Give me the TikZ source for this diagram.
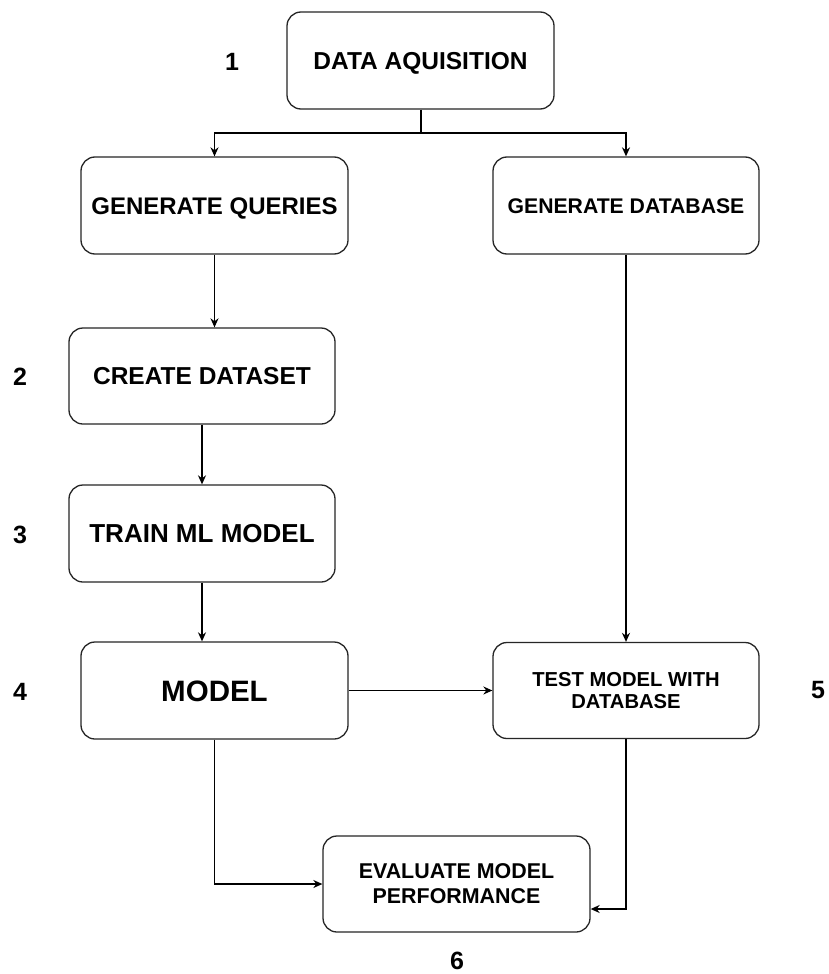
\documentclass[tikz,border=0pt]{standalone}
\usepackage{fontspec}
\setmainfont{Liberation Sans}
\usetikzlibrary{arrows.meta}
\newcommand{\fs}[2]{\fontsize{#1}{#2}\selectfont}
\tikzset{
  box/.style={draw=black!85, line width=1.3pt, rounded corners=14pt, fill=white,
    align=center, inner sep=0pt},
  conn/.style={draw=black, line width=1.3pt, -{Stealth[length=9pt,width=8pt]}},
  plain/.style={draw=black, line width=1.3pt},
  num/.style={font=\fs{25}{30}\bfseries, inner sep=0pt}
}
\begin{document}
\begin{tikzpicture}[x=1pt,y=-1pt]
\useasboundingbox[fill=white] (0,0) rectangle (829,974);
\node[box, minimum width=267pt, minimum height=97pt, font=\fs{24.5}{29}\bfseries, text height=17.5pt, text depth=0pt] (da) at (420.5,60.5) {DATA AQUISITION};
\node[box, minimum width=267pt, minimum height=97pt, font=\fs{24}{29}\bfseries, text height=17.2pt, text depth=0pt] (gq) at (214.5,205.5) {GENERATE QUERIES};
\node[box, minimum width=266pt, minimum height=97pt, font=\fs{21.2}{25}\bfseries, text height=15.2pt, text depth=0pt] (gd) at (626,205.5) {GENERATE DATABASE};
\node[box, minimum width=266pt, minimum height=96pt, font=\fs{24.5}{29}\bfseries, text height=17.5pt, text depth=0pt] (cd) at (202,376) {CREATE DATASET};
\node[box, minimum width=266pt, minimum height=97pt, font=\fs{26}{31}\bfseries, text height=18.6pt, text depth=0pt] (tr) at (202,533.5) {TRAIN ML MODEL};
\node[box, minimum width=267pt, minimum height=97pt, font=\fs{29.5}{34}\bfseries, text height=21.1pt, text depth=0pt] (mo) at (214.5,690.5) {MODEL};
\node[box, minimum width=266pt, minimum height=96pt, font=\fs{20.2}{22}\bfseries] (te) at (626,690.5) {TEST MODEL WITH\\DATABASE};
\node[box, minimum width=267pt, minimum height=96pt, font=\fs{21.4}{25}\bfseries] (ev) at (456.5,884) {EVALUATE MODEL\\PERFORMANCE};

\node[num] (n1) at (232,62) {1};
\node[num] (n2) at (20,377) {2};
\node[num] (n3) at (20,535) {3};
\node[num] (n4) at (20,692) {4};
\node[num] (n5) at (818,690) {5};
\node[num] (n6) at (457,961) {6};

\coordinate (split) at (421,133);
\draw[plain] (da.south -| split) -- (split);
\draw[conn] (split) -| (gq.north);
\draw[conn] (split) -| (gd.north);
\draw[conn] (gq.south) -- (gq.south |- cd.north);
\draw[conn] (cd.south) -- (tr.north);
\draw[conn] (tr.south) -- (tr.south |- mo.north);
\draw[conn] (gd.south) -- (te.north);
\draw[conn] (mo.east) -- (mo.east -| te.west);
\draw[conn] (mo.south) |- (ev.west);
\draw[conn] (te.south) |- ([yshift=-25pt]ev.east);
\end{tikzpicture}
\end{document}
